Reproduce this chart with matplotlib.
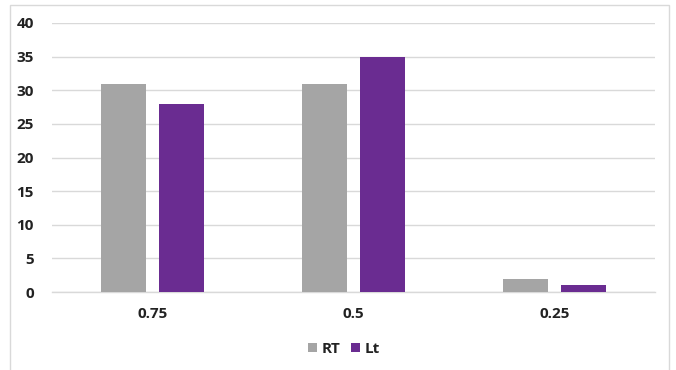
import matplotlib
matplotlib.use("Agg")
import matplotlib.pyplot as plt
from matplotlib.patches import Rectangle
import numpy as np

categories = ["0.75", "0.5", "0.25"]
rt_values = [31, 31, 2]
lt_values = [28, 35, 1]
series_names = ["RT", "Lt"]
y_ticks = [0, 5, 10, 15, 20, 25, 30, 35, 40]

plt.rcParams['font.family'] = ['Open Sans', 'DejaVu Sans']

fig = plt.figure(figsize=(6.76, 3.70), dpi=100)
ax = fig.add_axes([52/676, 1-292/370, (655-52)/676, (292-23)/370])

x = np.arange(len(categories))
w = 0.224
off = 0.144
ax.bar(x - off, rt_values, width=w, color="#A5A5A5", label=series_names[0], zorder=3)
ax.bar(x + off, lt_values, width=w, color="#6A2C91", label=series_names[1], zorder=3)

ax.set_xlim(-0.5, len(categories) - 0.5)
ax.set_ylim(0, 40)
ax.set_yticks(y_ticks)
ax.set_xticks(x)
ax.set_xticklabels(categories, fontsize=11, fontweight='bold', color='#222222')
ax.set_yticklabels([str(t) for t in y_ticks], fontsize=11, fontweight='bold', color='#222222')
ax.tick_params(axis='both', length=0)
ax.tick_params(axis='x', pad=11)
ax.tick_params(axis='y', pad=13)
ax.grid(axis='y', color='#D9D9D9', linewidth=1, zorder=0)
for s in ['top', 'right', 'left']:
    ax.spines[s].set_visible(False)
ax.spines['bottom'].set_color('#D9D9D9')
ax.spines['bottom'].set_linewidth(1)

leg = fig.legend(loc='center', bbox_to_anchor=(344/676, 1-349/370), ncol=2, frameon=False,
                 prop={'weight': 'bold', 'size': 11}, handlelength=0.6, handleheight=0.6,
                 handletextpad=0.3, columnspacing=0.7)
for t in leg.get_texts():
    t.set_color('#222222')

fig.patches.append(Rectangle((10/676, -0.05), 659/676, 1.05 - 5/370, transform=fig.transFigure,
                             fill=False, edgecolor='#D9D9D9', linewidth=1))

fig.savefig("out.png", dpi=100, facecolor='white')
